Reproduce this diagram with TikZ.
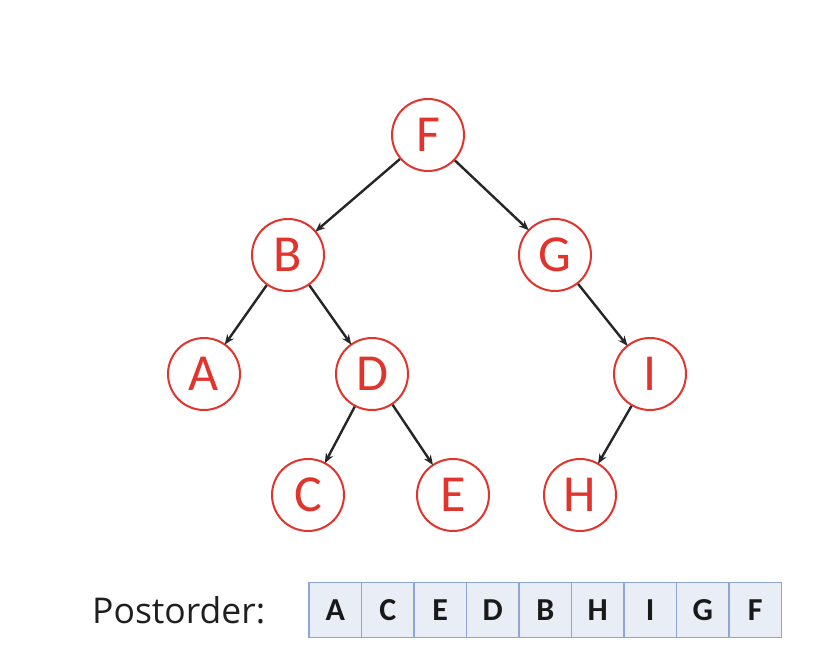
\documentclass[tikz,border=0pt]{standalone}
\usepackage{fontspec}
\setmainfont{Carlito}
\newfontfamily\labelfont{Open Sans}
\usetikzlibrary{arrows.meta}
\definecolor{nodered}{HTML}{E0342C}
\definecolor{boxfill}{HTML}{E9EDF6}
\definecolor{boxline}{HTML}{8EA5D9}
\begin{document}
\begin{tikzpicture}[x=1pt,y=-1pt,
  tnode/.style={circle,draw=nodered,line width=2pt,minimum size=72pt,inner sep=0pt,text=nodered,font=\fontsize{52}{52}\selectfont},
  edge/.style={line width=2.4pt,draw=black!85,shorten >=-1pt,-{Stealth[length=10pt,width=8pt]}},
  cell/.style={rectangle,draw=boxline,fill=boxfill,line width=1.2pt,minimum width=52.5pt,minimum height=55pt,inner sep=0pt,font=\fontsize{32}{32}\selectfont\bfseries,text=black!90}
]
\useasboundingbox (0,0) rectangle (830,668);
\node[tnode] (F) at (428,135) {F};
\node[tnode] (B) at (288,255) {B};
\node[tnode] (G) at (555,255) {G};
\node[tnode] (A) at (204,374) {A};
\node[tnode] (D) at (372,374) {D};
\node[tnode] (I) at (650,374) {I};
\node[tnode] (C) at (308,495) {C};
\node[tnode] (E) at (453,495) {E};
\node[tnode] (H) at (580,495) {H};
\draw[edge] (F) -- (B);
\draw[edge] (F) -- (G);
\draw[edge] (B) -- (A);
\draw[edge] (B) -- (D);
\draw[edge] (G) -- (I);
\draw[edge] (D) -- (C);
\draw[edge] (D) -- (E);
\draw[edge] (I) -- (H);
\node[anchor=west,font=\labelfont\fontsize{35.5}{35.5}\selectfont,text=black!88,inner sep=0pt] (lbl) at (92,610) {Postorder:};
\foreach \l [count=\i from 0] in {A,C,E,D,B,H,I,G,F}{
  \node[cell] (c\i) at (335.25+52.5*\i,610) {\l};
}
\end{tikzpicture}
\end{document}
